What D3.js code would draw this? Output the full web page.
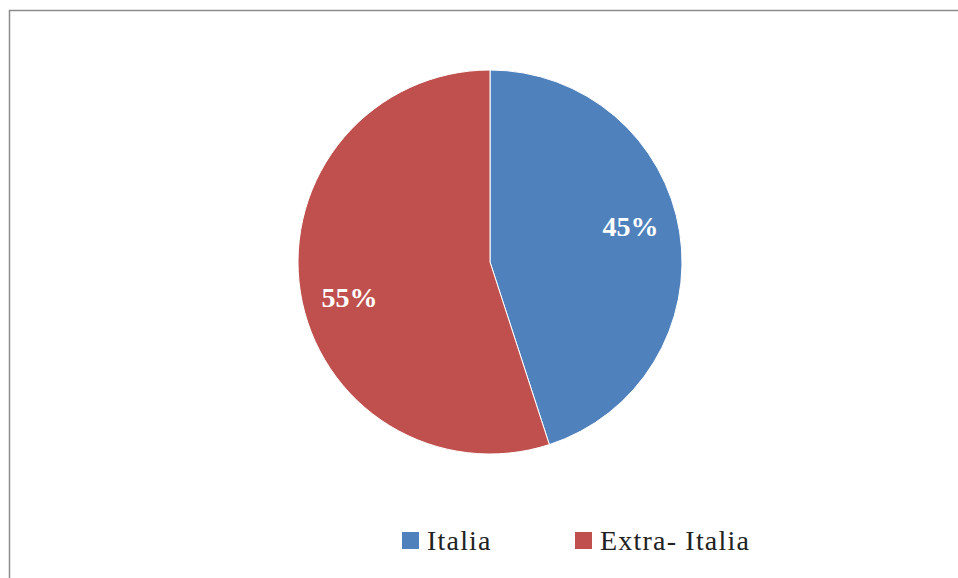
<!DOCTYPE html>
<html>
<head>
<meta charset="utf-8">
<script src="https://cdn.jsdelivr.net/npm/d3@7"></script>
<style>
  body { margin: 0; background: #fff; }
  svg { display: block; }
</style>
</head>
<body>
<div id="chart"></div>
<script>
// Data
const categories = ["Italia", "Extra- Italia"];
const values = [45, 55];
const colors = ["#4F81BD", "#C0504D"];

const width = 958;
const height = 578;
const font = "'Liberation Serif', 'DejaVu Serif', serif";

const svg = d3.select("#chart")
    .append("svg")
    .attr("width", width)
    .attr("height", height);

// Chart border
svg.append("rect")
    .attr("x", 9.5)
    .attr("y", 10.5)
    .attr("width", width)
    .attr("height", height)
    .attr("fill", "#fff")
    .attr("stroke", "#8c8c8c")
    .attr("stroke-width", 1.5);

const cx = 490, cy = 262, r = 192;

const pie = d3.pie().sort(null).value(d => d);
const arcs = pie(values);
const arc = d3.arc().innerRadius(0).outerRadius(r);
// labels sit a little counter-clockwise of the slice middle, like the original
const labelArc = d3.arc()
    .innerRadius(r * 0.755).outerRadius(r * 0.755)
    .startAngle(d => d.startAngle - 0.09)
    .endAngle(d => d.endAngle - 0.09);

const g = svg.append("g")
    .attr("transform", `translate(${cx},${cy})`);

g.selectAll("path")
    .data(arcs)
    .enter()
    .append("path")
    .attr("d", arc)
    .attr("fill", (d, i) => colors[i])
    .attr("stroke", "#fff")
    .attr("stroke-width", 1);

// Percent labels
g.selectAll("text")
    .data(arcs)
    .enter()
    .append("text")
    .attr("transform", d => `translate(${labelArc.centroid(d)})`)
    .attr("text-anchor", "middle")
    .attr("dy", "0.35em")
    .attr("fill", "#fff")
    .style("font-family", font)
    .style("font-size", "28px")
    .style("font-weight", "bold")
    .text(d => d.data + "%");

// Legend
const legendX = [402, 575];
const legend = svg.selectAll(".legend")
    .data(categories)
    .enter()
    .append("g")
    .attr("class", "legend")
    .attr("transform", (d, i) => `translate(${legendX[i]},532)`);

legend.append("rect")
    .attr("width", 17)
    .attr("height", 17)
    .attr("fill", (d, i) => colors[i]);

legend.append("text")
    .attr("x", 25)
    .attr("y", 18)
    .attr("fill", "#222")
    .style("font-family", font)
    .style("font-size", "28px")
    .style("letter-spacing", "1.2px")
    .text(d => d);
</script>
</body>
</html>
